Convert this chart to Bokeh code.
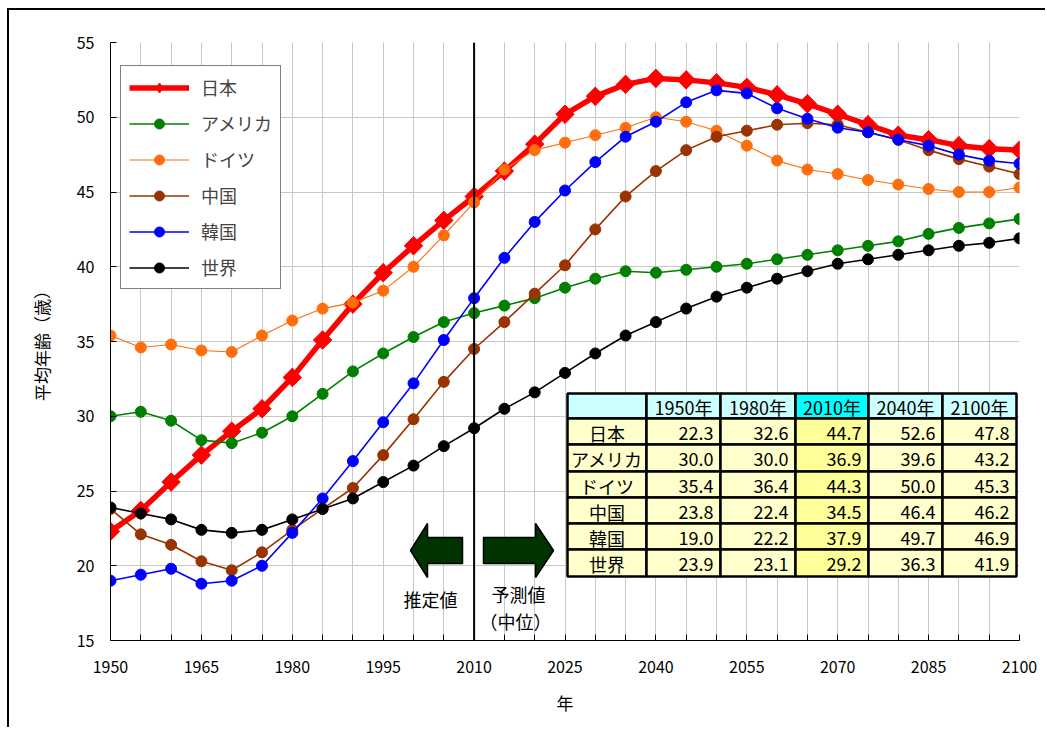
import math
from bokeh.plotting import figure
from bokeh.models import ColumnDataSource, FixedTicker, Span, Legend, LegendItem
from bokeh.embed import file_html
from bokeh.resources import INLINE
from bokeh.core.properties import value

# ---------------- data ----------------
years = list(range(1950, 2101, 5))

japan = [22.3, 23.7, 25.6, 27.4, 29.0, 30.5, 32.6, 35.1, 37.5, 39.6, 41.4, 43.1, 44.7,
         46.4, 48.2, 50.2, 51.4, 52.2, 52.6, 52.5, 52.3, 52.0, 51.5, 50.9, 50.2, 49.5,
         48.8, 48.5, 48.1, 47.9, 47.8]
usa = [30.0, 30.3, 29.7, 28.4, 28.2, 28.9, 30.0, 31.5, 33.0, 34.2, 35.3, 36.3, 36.9,
       37.4, 37.9, 38.6, 39.2, 39.7, 39.6, 39.8, 40.0, 40.2, 40.5, 40.8, 41.1, 41.4,
       41.7, 42.2, 42.6, 42.9, 43.2]
germany = [35.4, 34.6, 34.8, 34.4, 34.3, 35.4, 36.4, 37.2, 37.6, 38.4, 40.0, 42.1, 44.3,
           46.5, 47.8, 48.3, 48.8, 49.3, 50.0, 49.7, 49.1, 48.1, 47.1, 46.5, 46.2, 45.8,
           45.5, 45.2, 45.0, 45.0, 45.3]
china = [23.8, 22.1, 21.4, 20.3, 19.7, 20.9, 22.4, 23.8, 25.2, 27.4, 29.8, 32.3, 34.5,
         36.3, 38.2, 40.1, 42.5, 44.7, 46.4, 47.8, 48.7, 49.1, 49.5, 49.6, 49.5, 49.0,
         48.5, 47.8, 47.2, 46.7, 46.2]
korea = [19.0, 19.4, 19.8, 18.8, 19.0, 20.0, 22.2, 24.5, 27.0, 29.6, 32.2, 35.1, 37.9,
         40.6, 43.0, 45.1, 47.0, 48.7, 49.7, 51.0, 51.8, 51.6, 50.6, 49.9, 49.3, 49.0,
         48.5, 48.1, 47.5, 47.1, 46.9]
world = [23.9, 23.5, 23.1, 22.4, 22.2, 22.4, 23.1, 23.8, 24.5, 25.6, 26.7, 28.0, 29.2,
         30.5, 31.6, 32.9, 34.2, 35.4, 36.3, 37.2, 38.0, 38.6, 39.2, 39.7, 40.2, 40.5,
         40.8, 41.1, 41.4, 41.6, 41.9]

series_names = ["日本", "アメリカ", "ドイツ", "中国", "韓国", "世界"]

table_cols = ["1950年", "1980年", "2010年", "2040年", "2100年"]
table_rows = ["日本", "アメリカ", "ドイツ", "中国", "韓国", "世界"]
table_vals = [
    ["22.3", "32.6", "44.7", "52.6", "47.8"],
    ["30.0", "30.0", "36.9", "39.6", "43.2"],
    ["35.4", "36.4", "44.3", "50.0", "45.3"],
    ["23.8", "22.4", "34.5", "46.4", "46.2"],
    ["19.0", "22.2", "37.9", "49.7", "46.9"],
    ["23.9", "23.1", "29.2", "36.3", "41.9"],
]

y_ticks = [15, 20, 25, 30, 35, 40, 45, 50, 55]

FONT = "Noto Sans CJK JP"

# ---------------- figure ----------------
p = figure(width=1038, height=719, x_range=(1950, 2100), y_range=(15, 55),
           output_backend="svg", toolbar_location=None,
           min_border_left=101, min_border_right=28, min_border_top=32, min_border_bottom=89,
           background_fill_color="white", border_fill_color="white")
p.styles = {"margin-left": "7px", "margin-top": "8px",
            "border-top": "2px solid black", "border-left": "2px solid black"}
p.outline_line_color = None

p.xaxis.ticker = FixedTicker(ticks=years)
p.xaxis.major_label_overrides = {y: (str(y) if (y - 1950) % 15 == 0 else "") for y in years}
p.yaxis.ticker = FixedTicker(ticks=y_ticks)
p.xgrid.ticker = FixedTicker(ticks=years)
p.ygrid.ticker = FixedTicker(ticks=y_ticks)
for g in (p.xgrid, p.ygrid):
    g.grid_line_color = "#c8c8c8"
    g.grid_line_width = 1

for ax in (p.xaxis, p.yaxis):
    ax.major_tick_in = 6
    ax.major_tick_out = 0
    ax.minor_tick_in = 0
    ax.minor_tick_out = 0
    ax.axis_line_color = "black"
    ax.major_tick_line_color = "black"
    ax.major_label_text_font = FONT
    ax.major_label_text_font_size = "16px"
    ax.major_label_text_color = "black"
    ax.axis_label_text_font = FONT
    ax.axis_label_text_font_size = "17px"
    ax.axis_label_text_font_style = "normal"
    ax.axis_label_text_color = "black"

p.xaxis.axis_label = "年"
p.yaxis.axis_label = "平均年齢（歳）"
p.xaxis.major_label_standoff = 20
p.yaxis.major_label_standoff = 16
p.xaxis.axis_label_standoff = 14
p.yaxis.axis_label_standoff = 20

src = ColumnDataSource(dict(year=years, japan=japan, usa=usa, germany=germany,
                            china=china, korea=korea, world=world))

styles = [
    ("japan", "#FF0000", 5.5, "square", 13, math.pi / 4),
    ("usa", "#008000", 1.6, "circle", 11, 0),
    ("germany", "#FF6E0A", 1.1, "circle", 11, 0),
    ("china", "#993300", 1.6, "circle", 11, 0),
    ("korea", "#0000FF", 1.6, "circle", 11, 0),
    ("world", "#000000", 1.6, "circle", 11, 0),
]

items = []
for (col, color, lw, marker, size, ang), name in zip(styles, series_names):
    lr = p.line("year", col, source=src, line_color=color, line_width=lw)
    legend_marker = None
    if ang:
        # diamond drawn beneath the rotated squares; it supplies the legend marker shape
        legend_marker = p.scatter("year", col, source=src, marker="diamond", size=18,
                                  fill_color=color, line_color=color)
    sr = p.scatter("year", col, source=src, marker=marker, size=size, angle=ang,
                   fill_color=color, line_color=color)
    items.append(LegendItem(label=name, renderers=[lr, legend_marker or sr]))

legend = Legend(items=items, location=(10, 351), margin=0,
                border_line_color="black", border_line_width=1,
                background_fill_color="white", background_fill_alpha=1,
                label_text_font=FONT, label_text_font_size="18px",
                glyph_width=60, glyph_height=25, label_height=25,
                spacing=10, padding=8, label_standoff=12)
p.add_layout(legend)

p.add_layout(Span(location=2010, dimension="height", line_color="black", line_width=2))


# ------------- annotations (pixel layout -> data coordinates) -------------
def X(px):
    return 1950 + (px - 110) * 150.0 / 909.0


def Y(py):
    return 15 + (640 - py) * 40.0 / 598.0


left_arrow = [(410, 550), (427, 523), (427, 537), (462, 537), (462, 563), (427, 563), (427, 577)]
right_arrow = [(483, 537), (535, 537), (535, 523), (553, 550), (535, 577), (535, 563), (483, 563)]
p.patches([[X(a) for a, b in left_arrow], [X(a) for a, b in right_arrow]],
          [[Y(b) for a, b in left_arrow], [Y(b) for a, b in right_arrow]],
          fill_color="#003300", line_color="black", line_width=1.5)

p.text(x=[X(430), X(518), X(515)], y=[Y(598), Y(593), Y(620)],
       text=["推定値", "予測値", "（中位）"],
       text_font=value(FONT), text_font_size="18px", text_color="black",
       text_align="center", text_baseline="middle")

# ---------------- table ----------------
col_edges = [567, 646, 720, 795, 868, 942, 1016]
row_edges = [393, 418, 444, 471, 497, 523, 549, 576]

qx0, qx1, qy0, qy1, qc = [], [], [], [], []
for r in range(len(table_rows) + 1):
    for c in range(len(table_cols) + 1):
        qx0.append(X(col_edges[c]))
        qx1.append(X(col_edges[c + 1]))
        qy0.append(Y(row_edges[r + 1]))
        qy1.append(Y(row_edges[r]))
        if r == 0:
            qc.append("#00FFFF" if c == 3 else "#CCFFFF")
        else:
            qc.append("#FFFF99" if c == 3 else "#FFFFCC")
p.quad(left=qx0, right=qx1, bottom=qy0, top=qy1, fill_color=qc,
       line_color="black", line_width=2.5)

# header texts
hx = [X((col_edges[c + 1] + col_edges[c + 2]) / 2) for c in range(len(table_cols))]
hy = [Y((row_edges[0] + row_edges[1]) / 2 + 1)] * len(table_cols)
p.text(x=hx, y=hy, text=table_cols, text_font=value(FONT), text_font_size="18px",
       text_color="black", text_align="center", text_baseline="middle")

# row labels
rx = [X((col_edges[0] + col_edges[1]) / 2)] * len(table_rows)
ry = [Y((row_edges[r + 1] + row_edges[r + 2]) / 2 + 1) for r in range(len(table_rows))]
p.text(x=rx, y=ry, text=table_rows, text_font=value(FONT), text_font_size="18px",
       text_color="black", text_align="center", text_baseline="middle")

# values
vx, vy, vt = [], [], []
for r, row in enumerate(table_vals):
    for c, v in enumerate(row):
        vx.append(X(col_edges[c + 2] - 7))
        vy.append(Y((row_edges[r + 1] + row_edges[r + 2]) / 2 + 1))
        vt.append(v)
p.text(x=vx, y=vy, text=vt, text_font=value(FONT), text_font_size="18px",
       text_color="black", text_align="right", text_baseline="middle")

open("out.html", "w").write(file_html(p, INLINE))
